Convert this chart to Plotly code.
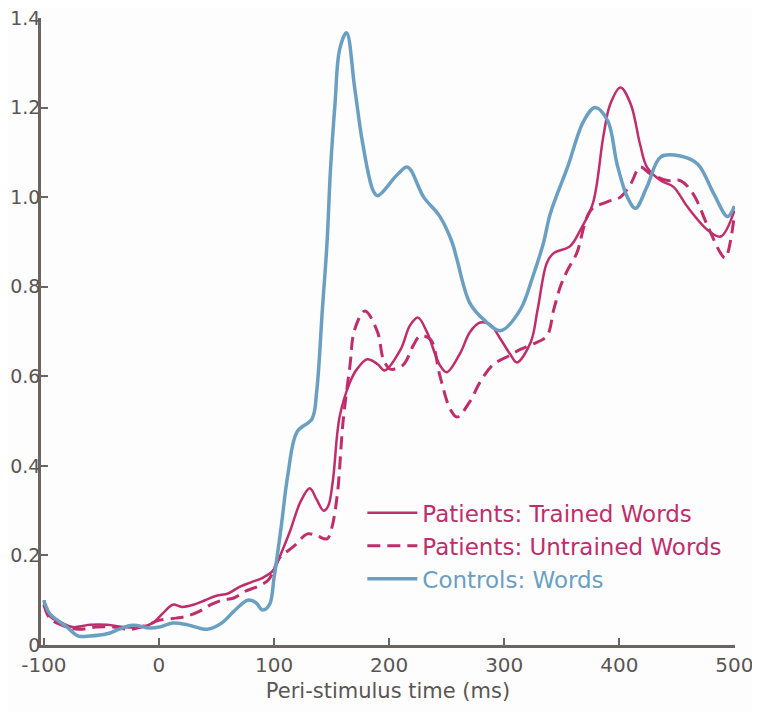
import plotly.graph_objects as go

MAGENTA = "#bf2d6b"
BLUE = "#6a9fc1"
AXIS = "#6b6461"
TEXT = "#5b5553"
FONT = "DejaVu Sans, Liberation Sans, Arial"

# Controls: Words
ctrl_t = [-100, -95, -88, -80, -70, -60, -45, -35, -23, -8, 0, 12, 25, 42, 55, 65,
          77, 84, 90, 96, 100, 106, 112, 120, 133, 137, 142, 146, 149, 153, 157,
          163, 170, 177, 186, 190, 207, 216, 230, 244, 255, 259, 270, 282, 297,
          314, 325, 334, 340, 355, 369, 379, 390, 398, 407, 414, 424, 436, 453,
          468, 482, 494, 500]
ctrl_v = [0.10, 0.07, 0.055, 0.04, 0.02, 0.02, 0.025, 0.035, 0.044, 0.038, 0.04,
          0.049, 0.045, 0.035, 0.05, 0.075, 0.10, 0.095, 0.078, 0.09, 0.15, 0.26,
          0.38, 0.476, 0.505, 0.565, 0.75, 0.897, 1.06, 1.21, 1.33, 1.367, 1.245,
          1.12, 1.015, 1.003, 1.05, 1.067, 1.0, 0.957, 0.897, 0.86, 0.764, 0.727,
          0.702, 0.749, 0.824, 0.897, 0.963, 1.067, 1.17, 1.2, 1.17, 1.074, 1.0,
          0.975, 1.023, 1.09, 1.092, 1.074, 1.008, 0.957, 0.98]

# Patients: Trained Words
trn_t = [-100, -95, -85, -75, -60, -45, -30, -15, -5, 5, 12, 20, 30, 40, 50, 60,
         70, 80, 90, 99, 107, 114, 123, 131, 137, 143, 147, 151, 157, 166, 172,
         181, 190, 196, 210, 218, 225, 233, 244, 250, 262, 270, 279, 288, 297,
         305, 311, 323, 329, 337, 343, 357, 366, 377, 386, 392, 401, 410, 418,
         424, 436, 447, 459, 477, 488, 500]
trn_v = [0.10, 0.065, 0.05, 0.04, 0.045, 0.045, 0.04, 0.04, 0.05, 0.075, 0.09,
         0.085, 0.09, 0.10, 0.11, 0.115, 0.13, 0.14, 0.15, 0.166, 0.21, 0.255,
         0.32, 0.35, 0.325, 0.30, 0.31, 0.365, 0.51, 0.587, 0.616, 0.638, 0.627,
         0.613, 0.66, 0.713, 0.731, 0.698, 0.625, 0.609, 0.653, 0.698, 0.72,
         0.715, 0.682, 0.65, 0.631, 0.676, 0.749, 0.853, 0.875, 0.89, 0.926,
         0.986, 1.134, 1.207, 1.245, 1.207, 1.118, 1.067, 1.037, 1.023, 0.979,
         0.926, 0.912, 0.97]

# Patients: Untrained Words
unt_t = [-100, -95, -85, -70, -55, -40, -25, -10, 0, 15, 25, 35, 45, 55, 65, 75,
         85, 95, 105, 117, 129, 137, 146, 150, 155, 160, 166, 170, 179, 190, 195,
         201, 212, 221, 227, 236, 244, 253, 259, 270, 279, 290, 305, 314, 325,
         337, 343, 349, 355, 363, 375, 390, 401, 410, 418, 427, 442, 453, 464,
         477, 488, 492, 500]
unt_v = [0.09, 0.06, 0.045, 0.035, 0.04, 0.04, 0.035, 0.045, 0.055, 0.06, 0.065,
         0.075, 0.09, 0.10, 0.105, 0.12, 0.13, 0.145, 0.195, 0.22, 0.248, 0.244,
         0.237, 0.26, 0.337, 0.50, 0.625, 0.704, 0.746, 0.698, 0.638, 0.616,
         0.625, 0.669, 0.69, 0.682, 0.602, 0.527, 0.509, 0.543, 0.587, 0.625,
         0.647, 0.66, 0.672, 0.69, 0.749, 0.802, 0.837, 0.875, 0.97, 0.99, 1.0,
         1.03, 1.067, 1.052, 1.037, 1.037, 1.008, 0.934, 0.875, 0.864, 0.96]

x_ticks = [-100, 0, 100, 200, 300, 400, 500]
x_labels = ["-100", "0", "100", "200", "300", "400", "500"]
y_ticks = [0, 0.2, 0.4, 0.6, 0.8, 1.0, 1.2, 1.4]
y_labels = ["0", "0.2", "0.4", "0.6", "0.8", "1.0", "1.2", "1.4"]

fig = go.Figure()
fig.add_trace(go.Scatter(
    x=trn_t, y=trn_v, mode="lines", line=dict(color=MAGENTA, width=2.5, shape="spline"),
    name=f"<span style='color:{MAGENTA}'>Patients: Trained Words</span>"))
fig.add_trace(go.Scatter(
    x=unt_t, y=unt_v, mode="lines",
    line=dict(color=MAGENTA, width=3, dash="13px,7px", shape="spline"),
    name=f"<span style='color:{MAGENTA}'>Patients: Untrained Words</span>"))
fig.add_trace(go.Scatter(
    x=ctrl_t, y=ctrl_v, mode="lines", line=dict(color=BLUE, width=3.5, shape="spline"),
    name=f"<span style='color:{BLUE}'>Controls: Words</span>"))

axis_common = dict(
    showgrid=False, zeroline=False, showline=True, linecolor=AXIS, linewidth=2.5,
    ticks="inside", ticklen=7, tickwidth=2, tickcolor=AXIS, automargin=False,
    ticklabeloverflow="allow",
)
fig.update_xaxes(range=[-102.5, 500.5], tickvals=x_ticks, ticktext=x_labels,
                 tickfont=dict(size=20, color=TEXT, family=FONT),
                 title=dict(text="Peri-stimulus time (ms)", standoff=8,
                            font=dict(size=21, color=TEXT, family=FONT)),
                 **axis_common)
fig.update_yaxes(range=[0, 1.4], tickvals=y_ticks, ticktext=y_labels,
                 tickfont=dict(size=19, color=TEXT, family=FONT),
                 ticklabelstandoff=-6,
                 **axis_common)

# the page body adds an 8px offset, so the figure is sized to fit the window
fig.update_layout(
    width=752, height=705,
    margin=dict(l=33, r=25, t=10, b=68),
    paper_bgcolor="#fdfdfe", plot_bgcolor="#fdfdfe",
    font=dict(family=FONT),
    showlegend=True,
    legend=dict(x=0.463, y=0.245, xanchor="left", yanchor="top",
                bgcolor="rgba(0,0,0,0)", font=dict(size=23),
                tracegroupgap=0, itemwidth=50),
)

fig.write_html("out.html")
